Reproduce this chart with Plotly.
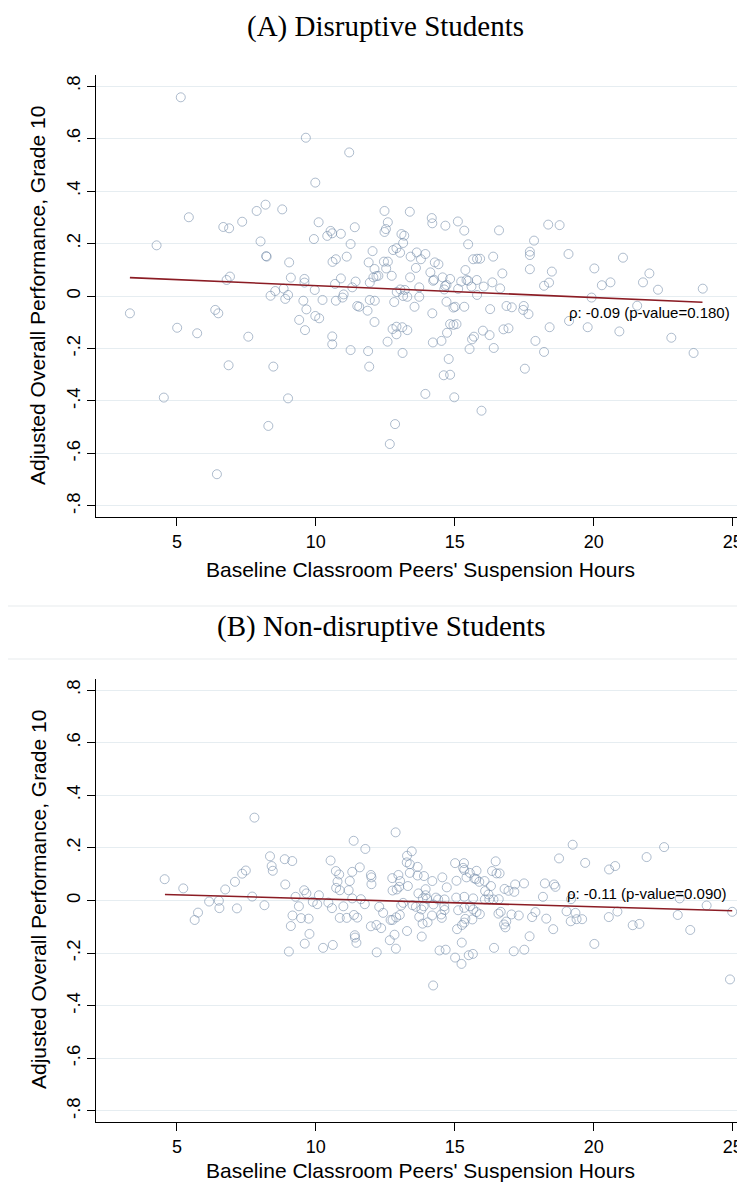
import plotly.graph_objects as go

# Panel A: disruptive students (peer suspension hours, adjusted performance)
a_x = [5.14, 4.27, 5.43, 6.67, 6.88, 7.35, 7.87, 8.19, 8.79, 8.01, 8.21, 8.23, 9.04, 6.79, 6.91,
       9.10, 8.37, 8.54, 8.84, 8.90, 9.00, 3.31, 5.01, 5.73, 6.38, 6.49, 7.57, 9.40, 6.86, 8.47,
       4.53, 9.00, 8.29, 6.44, 11.92, 13.94, 12.85, 12.66, 14.60, 14.83, 14.78, 14.98, 15.96, 17.52,
       9.64, 11.20, 9.98, 12.47, 13.38, 14.17, 14.19, 15.11, 14.66, 10.10, 12.59, 12.52, 12.47, 11.40,
       10.53, 10.59, 10.41, 10.90, 9.93, 13.08, 13.18, 15.34, 16.59, 18.36, 18.77, 11.25, 13.14, 15.48,
       17.85, 12.78, 12.90, 13.03, 12.04, 11.11, 13.41, 13.63, 13.78, 13.94, 10.60, 10.72, 11.90, 12.45,
       12.59, 12.53, 12.11, 12.18, 12.07, 12.25, 13.60, 14.28, 14.41, 14.12, 15.66, 15.80, 15.91, 16.38,
       17.70, 17.70, 19.09, 21.05, 16.71, 17.70, 18.49, 20.02, 22.00, 21.77, 20.60, 20.29, 18.39, 18.21,
       22.31, 23.92, 19.92, 21.56, 12.73, 13.39, 9.59, 9.59, 10.69, 10.90, 11.43, 11.31, 11.94, 9.96,
       10.72, 11.00, 10.96, 10.24, 12.91, 13.04, 13.20, 13.14, 13.29, 13.72, 13.72, 14.22, 14.25, 14.56,
       14.65, 14.62, 14.70, 14.83, 15.12, 15.23, 15.42, 15.48, 15.60, 15.79, 15.80, 16.04, 16.35, 16.63,
       15.38, 12.82, 11.94, 12.12, 9.55, 9.66, 14.70, 11.49, 11.56, 11.86, 13.55, 14.19, 14.95, 15.01,
       15.34, 16.27, 16.86, 17.05, 17.48, 17.46, 17.65, 19.11, 9.98, 10.12, 12.11, 9.61, 12.76, 12.90,
       13.11, 13.29, 12.90, 14.83, 14.95, 15.06, 14.72, 16.75, 16.93, 18.41, 19.78, 20.92, 22.79, 16.01,
       16.25, 15.62, 15.69, 10.59, 10.59, 12.58, 14.21, 14.52, 17.90, 11.25, 11.88, 13.12, 15.53, 16.40,
       18.21, 23.59]
a_y = [0.757, 0.193, 0.300, 0.263, 0.258, 0.283, 0.324, 0.348, 0.330, 0.208, 0.152, 0.150, 0.128, 0.061, 0.074,
       0.070, 0.001, 0.019, 0.028, -0.011, 0.004, -0.066, -0.121, -0.142, -0.053, -0.066, -0.155, -0.091, -0.264, -0.269,
       -0.387, -0.390, -0.495, -0.679, -0.269, -0.373, -0.488, -0.564, -0.302, -0.300, -0.240, -0.386, -0.437, -0.277,
       0.603, 0.547, 0.432, 0.324, 0.321, 0.297, 0.277, 0.284, 0.268, 0.281, 0.281, 0.255, 0.244, 0.262,
       0.248, 0.239, 0.229, 0.237, 0.217, 0.236, 0.230, 0.249, 0.250, 0.272, 0.270, 0.198, 0.202, 0.197,
       0.211, 0.175, 0.182, 0.165, 0.171, 0.150, 0.150, 0.166, 0.140, 0.160, 0.130, 0.140, 0.128, 0.131,
       0.131, 0.105, 0.103, 0.076, 0.071, 0.077, 0.107, 0.128, 0.121, 0.090, 0.140, 0.142, 0.142, 0.150,
       0.169, 0.156, 0.160, 0.146, 0.086, 0.102, 0.093, 0.105, 0.086, 0.052, 0.052, 0.041, 0.051, 0.039,
       0.024, 0.028, -0.006, -0.037, 0.077, 0.071, 0.065, 0.051, 0.046, 0.067, 0.055, 0.033, 0.051, 0.023,
       -0.018, 0.006, -0.006, -0.015, 0.015, 0.025, 0.023, 0.000, -0.003, 0.033, -0.003, 0.058, 0.062, 0.071,
       0.038, 0.025, 0.042, 0.065, 0.027, 0.055, 0.061, 0.058, 0.036, 0.061, 0.004, 0.036, 0.052, 0.029,
       0.099, -0.023, -0.015, -0.018, -0.018, -0.051, -0.022, -0.038, -0.041, -0.056, -0.041, -0.066, -0.044, -0.041,
       -0.041, -0.050, -0.038, -0.043, -0.038, -0.053, -0.069, -0.095, -0.076, -0.085, -0.099, -0.130, -0.126, -0.117,
       -0.119, -0.130, -0.146, -0.107, -0.110, -0.107, -0.140, -0.127, -0.123, -0.119, -0.119, -0.135, -0.159, -0.132,
       -0.149, -0.165, -0.155, -0.154, -0.184, -0.174, -0.177, -0.171, -0.171, -0.206, -0.210, -0.217, -0.202, -0.198,
       -0.213, -0.217]
a_fit_x = [3.31, 23.91]
a_fit_y = [0.070, -0.024]
a_label = "ρ: -0.09 (p-value=0.180)"

# Panel B: non-disruptive students
b_x = [4.56, 5.23, 5.64, 5.76, 6.16, 6.51, 6.53, 6.74, 7.09, 7.16, 7.35, 7.48, 7.71, 7.79, 8.15,
       8.35, 8.41, 8.45, 8.88, 9.15, 8.90, 9.27, 9.10, 9.16, 9.03, 9.39, 9.47,
       12.87, 11.36, 11.78, 13.45, 13.28, 10.53, 13.27, 13.38, 13.66, 15.01, 15.33, 15.30, 15.34, 16.47,
       16.34, 16.50, 16.61, 18.75, 19.24, 19.69, 20.55, 20.77, 21.90, 22.53, 11.58, 11.31, 10.72, 10.84,
       10.78, 10.73, 10.86, 11.18, 11.22, 12.00, 12.00, 11.98, 12.75, 12.97, 13.03, 13.00, 12.76, 12.91,
       13.31, 13.38, 13.66, 13.89, 14.19, 14.55, 14.71, 15.06, 15.42, 15.70, 15.77, 15.88, 16.07, 16.30,
       15.54, 15.78, 16.79, 16.93, 17.17, 17.14, 17.49, 18.24, 18.57, 18.62, 18.17, 19.18, 23.09, 24.06,
       13.95, 13.95, 13.85, 14.00, 13.69, 13.14, 13.07, 14.32, 14.40, 14.63, 15.05, 15.34, 16.08, 16.24,
       16.39, 15.66, 16.58, 9.58, 9.66, 10.11, 9.89, 10.05, 10.45, 10.99, 11.31, 11.62, 11.76, 10.58,
       12.28, 13.48, 13.60, 13.88, 13.80, 14.23, 14.62, 14.63, 15.12, 15.34, 15.55, 15.78, 15.90, 15.66,
       16.57, 16.65, 17.04, 17.30, 17.78, 17.90, 18.29, 19.02, 19.17, 19.38, 19.58, 19.34, 20.54, 20.85,
       21.40, 21.64, 23.02, 23.47, 24.98, 24.90, 9.74, 9.77, 9.60, 10.26, 10.61, 10.86, 11.11, 11.37,
       11.49, 11.40, 11.41, 11.46, 11.98, 12.18, 12.35, 12.42, 12.19, 12.69, 12.76, 12.89, 13.02, 12.83,
       12.66, 12.88, 13.28, 13.72, 13.84, 14.02, 13.81, 14.18, 14.51, 14.53, 14.45, 14.67, 15.08, 15.26,
       15.34, 15.38, 15.63, 15.25, 15.01, 15.24, 15.50, 15.65, 16.41, 16.77, 16.85, 16.82, 17.12, 17.50,
       17.69, 18.54, 20.02, 16.09, 16.21, 14.22]
b_y = [0.081, 0.046, -0.074, -0.046, -0.004, -0.001, -0.029, 0.042, 0.071, -0.030, 0.102, 0.114, 0.015, 0.315, -0.018,
       0.168, 0.131, 0.113, 0.157, 0.150, 0.061, 0.014, -0.097, -0.057, -0.194, -0.022, -0.067,
       0.259, 0.227, 0.196, 0.187, 0.170, 0.152, 0.145, 0.138, 0.128, 0.142, 0.142, 0.124, 0.116, 0.149,
       0.112, 0.103, 0.103, 0.160, 0.212, 0.143, 0.118, 0.131, 0.165, 0.203, 0.126, 0.109, 0.112, 0.099,
       0.072, 0.048, 0.039, 0.039, 0.074, 0.062, 0.088, 0.097, 0.085, 0.097, 0.074, 0.052, 0.038, 0.042,
       0.055, 0.105, 0.095, 0.093, 0.074, 0.088, 0.050, 0.075, 0.088, 0.084, 0.081, 0.071, 0.074, 0.055,
       0.105, 0.113, 0.044, 0.037, 0.061, 0.033, 0.065, 0.065, 0.061, 0.052, 0.014, 0.005, 0.008, -0.019,
       0.043, 0.020, 0.008, 0.006, 0.027, -0.009, -0.019, 0.011, 0.004, 0.004, 0.011, 0.014, 0.004, 0.004,
       0.004, 0.008, 0.005, 0.039, 0.027, 0.020, -0.005, -0.014, -0.008, -0.022, 0.008, 0.005, -0.014, -0.029,
       -0.024, -0.018, -0.024, -0.022, -0.034, -0.015, -0.022, -0.036, -0.037, -0.028, -0.022, -0.044, -0.052, -0.034,
       -0.050, -0.043, -0.053, -0.057, -0.063, -0.044, -0.069, -0.041, -0.079, -0.071, -0.071, -0.047, -0.063, -0.042,
       -0.094, -0.089, -0.055, -0.112, -0.043, -0.300, -0.069, -0.127, -0.164, -0.180, -0.169, -0.066, -0.066, -0.055,
       -0.065, -0.132, -0.141, -0.161, -0.098, -0.093, -0.105, -0.047, -0.197, -0.074, -0.074, -0.064, -0.055, -0.130,
       -0.151, -0.183, -0.116, -0.062, -0.088, -0.083, -0.137, -0.057, -0.053, -0.066, -0.190, -0.187, -0.109, -0.093,
       -0.084, -0.070, -0.072, -0.160, -0.217, -0.241, -0.208, -0.203, -0.180, -0.091, -0.080, -0.102, -0.193, -0.187,
       -0.136, -0.109, -0.165, 0.036, 0.023, -0.323]
b_fit_x = [4.57, 24.98]
b_fit_y = [0.023, -0.039]
b_label = "ρ: -0.11 (p-value=0.090)"

x_ticks = [5, 10, 15, 20, 25]
y_ticks = [-0.8, -0.6, -0.4, -0.2, 0, 0.2, 0.4, 0.6, 0.8]
y_ticktext = ['-.8', '-.6', '-.4', '-.2', '0', '.2', '.4', '.6', '.8']

# the page body has an 8px margin, so the figure starts 8px in from the window corner
OFF = 8
W, H = 745 - OFF, 1186 - OFF
SANS = 'Liberation Sans, Arial, sans-serif'
SERIF = 'Liberation Serif, Times New Roman, serif'
marker_style = dict(symbol='circle-open', size=9, color='rgba(115,140,168,0.58)', line=dict(width=1))
fit_style = dict(color='#8b1c24', width=1.6)


def px(p):
    # window column -> paper fraction
    return (p - OFF) / W


def py(p):
    # window row -> paper fraction
    return 1 - (p - OFF) / H


fig = go.Figure()
fig.add_trace(go.Scatter(x=a_x, y=a_y, mode='markers', marker=marker_style, xaxis='x', yaxis='y'))
fig.add_trace(go.Scatter(x=a_fit_x, y=a_fit_y, mode='lines', line=fit_style, xaxis='x', yaxis='y'))
fig.add_trace(go.Scatter(x=b_x, y=b_y, mode='markers', marker=marker_style, xaxis='x2', yaxis='y2'))
fig.add_trace(go.Scatter(x=b_fit_x, y=b_fit_y, mode='lines', line=fit_style, xaxis='x2', yaxis='y2'))

xax = dict(domain=[px(96), 1], range=[2.09, 25.44], tickvals=x_ticks, ticks='outside', ticklen=8,
           tickcolor='black', showline=True, linecolor='black', linewidth=1.2, showgrid=False,
           zeroline=False, tickfont=dict(family=SANS, size=18, color='black'))
yax = dict(range=[-0.842, 0.842], tickvals=y_ticks, ticktext=y_ticktext, tickangle=-90, ticks='outside',
           ticklen=8, tickcolor='black', showline=True, linecolor='black', linewidth=1.2,
           showgrid=True, gridcolor='#e6edf1', gridwidth=1.3, zeroline=False,
           tickfont=dict(family=SANS, size=18.5, color='black'))

fig.update_layout(
    width=W, height=H, margin=dict(l=0, r=0, t=0, b=0),
    paper_bgcolor='white', plot_bgcolor='white', showlegend=False,
    xaxis=dict(xax, anchor='y'),
    yaxis=dict(yax, domain=[py(517), py(75)], anchor='x'),
    xaxis2=dict(xax, anchor='y2'),
    yaxis2=dict(yax, domain=[py(1122), py(679)], anchor='x2'),
)

anns = [
    dict(text='(A) Disruptive Students', x=px(385), y=py(26), font=dict(family=SERIF, size=29)),
    dict(text='(B) Non-disruptive Students', x=px(381), y=py(626), font=dict(family=SERIF, size=29)),
    dict(text="Baseline Classroom Peers' Suspension Hours", x=px(420), y=py(569), font=dict(family=SANS, size=21)),
    dict(text="Baseline Classroom Peers' Suspension Hours", x=px(420), y=py(1170), font=dict(family=SANS, size=21)),
    dict(text='Adjusted Overall Performance, Grade 10', x=px(38), y=py(296), textangle=-90, font=dict(family=SANS, size=21)),
    dict(text='Adjusted Overall Performance, Grade 10', x=px(38), y=py(900), textangle=-90, font=dict(family=SANS, size=21)),
]
for a in anns:
    a.update(xref='paper', yref='paper', showarrow=False, xanchor='center', yanchor='middle')
    a['font'].setdefault('color', 'black')
    fig.add_annotation(**a)

fig.add_annotation(text=a_label, x=19.05, y=-0.061, xref='x', yref='y', xanchor='left', yanchor='middle',
                   showarrow=False, font=dict(family=SANS, size=15, color='black'))
fig.add_annotation(text=b_label, x=18.96, y=0.028, xref='x2', yref='y2', xanchor='left', yanchor='middle',
                   showarrow=False, font=dict(family=SANS, size=15, color='black'))

# faint frame lines around the second panel title
for row in (606, 659):
    fig.add_shape(type='line', xref='paper', yref='paper', x0=0, x1=1, y0=py(row), y1=py(row),
                  line=dict(color='#e8ecee', width=1.2))

fig.write_html("out.html")
